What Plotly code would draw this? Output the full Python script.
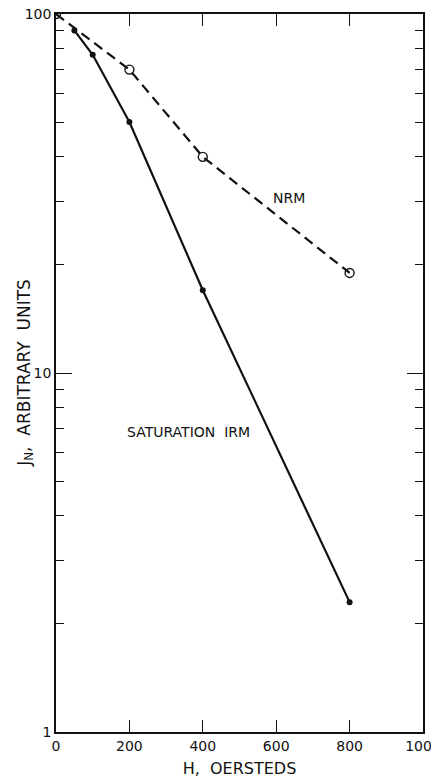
import plotly.graph_objects as go

# Data
nrm_h = [0, 200, 400, 800]
nrm_j = [100, 70, 40, 19]
irm_h = [50, 100, 200, 400, 800]
irm_j = [90, 77, 50, 17, 2.3]

x_ticks = [0, 200, 400, 600, 800, 1000]
y_major = [1, 10, 100]
y_minor = [2, 3, 4, 5, 6, 7, 8, 9, 20, 30, 40, 50, 60, 70, 80, 90]

FONT = "DejaVu Sans"
fig = go.Figure()

fig.add_trace(go.Scatter(
    x=nrm_h, y=nrm_j, mode="lines+markers",
    line=dict(color="#111", width=2.2, dash="10px,6px"),
    marker=dict(symbol="circle-open", size=9, color="#111", line=dict(width=1.4)),
    showlegend=False))
fig.add_trace(go.Scatter(
    x=irm_h, y=irm_j, mode="lines+markers",
    line=dict(color="#111", width=2.2),
    marker=dict(symbol="circle", size=6, color="#111"),
    showlegend=False))

fig.add_annotation(x=635, y=1.487, yref="y", xref="x", text="NRM", showarrow=False,
                   font=dict(family=FONT, size=14, color="#111"))
fig.add_annotation(x=360, y=0.836, yref="y", xref="x", text="SATURATION  IRM", showarrow=False,
                   font=dict(family=FONT, size=14, color="#111"))
# y-axis title
fig.add_annotation(x=-0.085, y=0.5, xref="paper", yref="paper", xanchor="center", yanchor="middle",
                   text="J<sub>N</sub>,  ARBITRARY  UNITS", textangle=-90, showarrow=False,
                   font=dict(family=FONT, size=17, color="#111"))

fig.update_layout(
    width=431, height=771,
    margin=dict(l=48, r=16, t=6, b=47),
    paper_bgcolor="white", plot_bgcolor="white",
    font=dict(family=FONT, size=14, color="#111"),
    xaxis=dict(range=[0, 1000], tickvals=x_ticks, ticktext=[str(v) for v in x_ticks],
               ticks="inside", ticklen=12, tickwidth=1.3, tickcolor="#111",
               showline=True, linecolor="#111", linewidth=1.5, mirror="ticks",
               showgrid=False, zeroline=False, automargin=False,
               ticklabeloverflow="allow",
               title=dict(text="H,  OERSTEDS", standoff=10, font=dict(size=16))),
    yaxis=dict(type="log", range=[0, 2], tickvals=y_major, ticktext=["1", "10", "100"],
               ticks="inside", ticklen=16, tickwidth=1.3, tickcolor="#111",
               showline=True, linecolor="#111", linewidth=1.5, mirror="ticks",
               showgrid=False, zeroline=False, automargin=False,
               ticklabeloverflow="allow",
               minor=dict(tickvals=y_minor, ticks="inside", ticklen=8, tickwidth=1.3,
                          tickcolor="#111", showgrid=False)),
)

fig.write_html("out.html")
